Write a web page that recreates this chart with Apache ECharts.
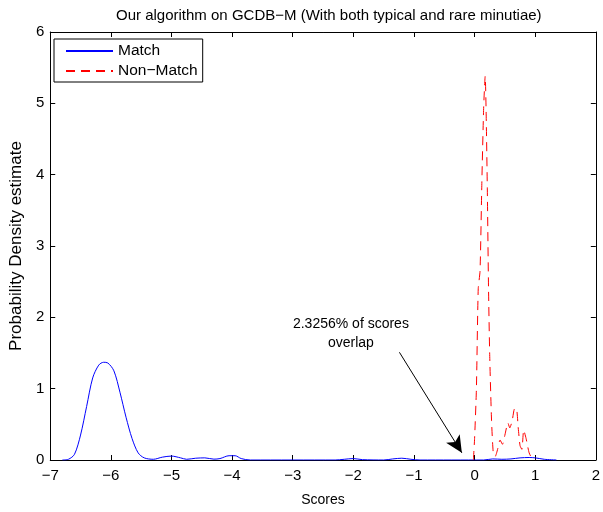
<!DOCTYPE html>
<html><head><meta charset="utf-8">
<script src="https://cdn.jsdelivr.net/npm/echarts@6/dist/echarts.min.js"></script>
<style>html,body{margin:0;padding:0;background:#fff}#c{width:603px;height:512px}</style>
</head><body><div id="c"></div>
<script>
const titleText = 'Our algorithm on GCDB\u2212M (With both typical and rare minutiae)';
const xTicks = [-7,-6,-5,-4,-3,-2,-1,0,1,2];
const yTicks = [0,1,2,3,4,5,6];
const matchX = [-6.8,-6.7,-6.6,-6.5,-6.4,-6.3,-6.2,-6.12,-6.05,-5.95,-5.85,-5.75,-5.65,-5.55,-5.45,-5.3,-5.15,-5.0,-4.85,-4.75,-4.6,-4.45,-4.3,-4.2,-4.05,-3.95,-3.85,-3.7,-2.3,-2.15,-2.0,-1.85,-1.5,-1.35,-1.2,-1.05,-0.9,0.15,0.3,0.45,0.6,0.75,0.9,1.0,1.15,1.35];
const matchY = [0,0.01,0.08,0.35,0.75,1.15,1.33,1.37,1.36,1.25,0.95,0.6,0.3,0.1,0.03,0.01,0.04,0.055,0.03,0.01,0.025,0.03,0.012,0.02,0.06,0.06,0.02,0,0,0.01,0.02,0.005,0,0.015,0.025,0.01,0,0,0.015,0.01,0.015,0.03,0.035,0.03,0.01,0];
const nonMatchX = [-0.02,0.0,0.03,0.06,0.09,0.12,0.15,0.175,0.19,0.21,0.23,0.25,0.28,0.31,0.34,0.38,0.42,0.46,0.5,0.55,0.58,0.62,0.66,0.69,0.72,0.75,0.78,0.81,0.85,0.9,0.95,1.0];
const nonMatchY = [0,0.3,1.0,2.4,2.65,3.9,4.95,5.38,4.9,3.8,2.4,1.45,0.55,0.08,0.05,0.15,0.28,0.22,0.35,0.52,0.45,0.55,0.72,0.72,0.45,0.2,0.15,0.42,0.3,0.1,0.02,0];
const annotText = '2.3256% of scores\noverlap';
const annotTextPos = [-2.04, 1.77];
const arrowFrom = [-1.24, 1.51];
const arrowTo = [-0.21, 0.1];

const FONT = 'Liberation Sans, Arial, Helvetica, sans-serif';
const fmt = v => String(v).replace('-', '\u2212');
const zip = (a,b) => a.map((x,i)=>[x,b[i]]);
const chart = echarts.init(document.getElementById('c'), null, {renderer:'canvas'});
const axisCommon = {
  axisLine:{show:true,onZero:false,lineStyle:{color:'#000',width:1}},
  axisTick:{show:true,inside:true,length:5,lineStyle:{color:'#000'}},
  splitLine:{show:false}
};
chart.setOption({
  animation:false,
  title:{text:titleText,left:111,top:3,textStyle:{fontFamily:FONT,fontSize:15,fontWeight:'normal',color:'#000'}},
  grid:{left:47,right:1.5,top:32,bottom:44,containLabel:false},
  legend:{
    left:54,top:39,orient:'vertical',
    data:['Match','Non\u2212Match'],
    itemWidth:47,itemHeight:14,itemGap:4,
    itemStyle:{opacity:0},
    borderColor:'#000',borderWidth:1,padding:[4,5,3,11],
    backgroundColor:'#fff',
    textStyle:{fontFamily:FONT,fontSize:15.5,color:'#000'}
  },
  xAxis:[
    Object.assign({type:'value',min:-7,max:2,interval:1,name:'Scores',nameLocation:'middle',nameGap:33,
      nameTextStyle:{fontFamily:FONT,fontSize:14,color:'#000'},
      axisLabel:{fontFamily:FONT,fontSize:15,color:'#000',margin:8,formatter:fmt}},axisCommon),
    Object.assign({type:'value',min:-7,max:2,interval:1,position:'top',axisLabel:{show:false}},axisCommon)
  ],
  yAxis:[
    Object.assign({type:'value',min:0,max:6,interval:1,name:'Probability Density estimate',nameLocation:'middle',nameGap:19,
      nameTextStyle:{fontFamily:FONT,fontSize:17,color:'#000'},
      axisLabel:{fontFamily:FONT,fontSize:15,color:'#000',margin:6,formatter:fmt}},axisCommon),
    Object.assign({type:'value',min:0,max:6,interval:1,position:'right',axisLabel:{show:false}},axisCommon)
  ],
  series:[
    {name:'Match',type:'line',data:zip(matchX,matchY),smooth:0.3,showSymbol:false,symbol:'none',
      lineStyle:{color:'#0000ff',width:1},itemStyle:{color:'#0000ff'},z:3},
    {name:'Non\u2212Match',type:'line',data:zip(nonMatchX,nonMatchY),smooth:0.2,showSymbol:false,symbol:'none',
      lineStyle:{color:'#ff0000',width:1,type:[9,6]},itemStyle:{color:'#ff0000'},z:4,
      markLine:{silent:true,symbol:['none','arrow'],symbolSize:[12,17],
        lineStyle:{color:'#000',width:1,type:'solid'},label:{show:false},
        data:[[{coord:arrowFrom},{coord:arrowTo}]]},
      markPoint:{silent:true,symbol:'circle',symbolSize:0,
        data:[{coord:annotTextPos,label:{show:true,formatter:annotText,position:'inside',
          fontFamily:FONT,fontSize:14,color:'#000',lineHeight:19,align:'center'}}]}
    }
  ]
});
</script></body></html>
